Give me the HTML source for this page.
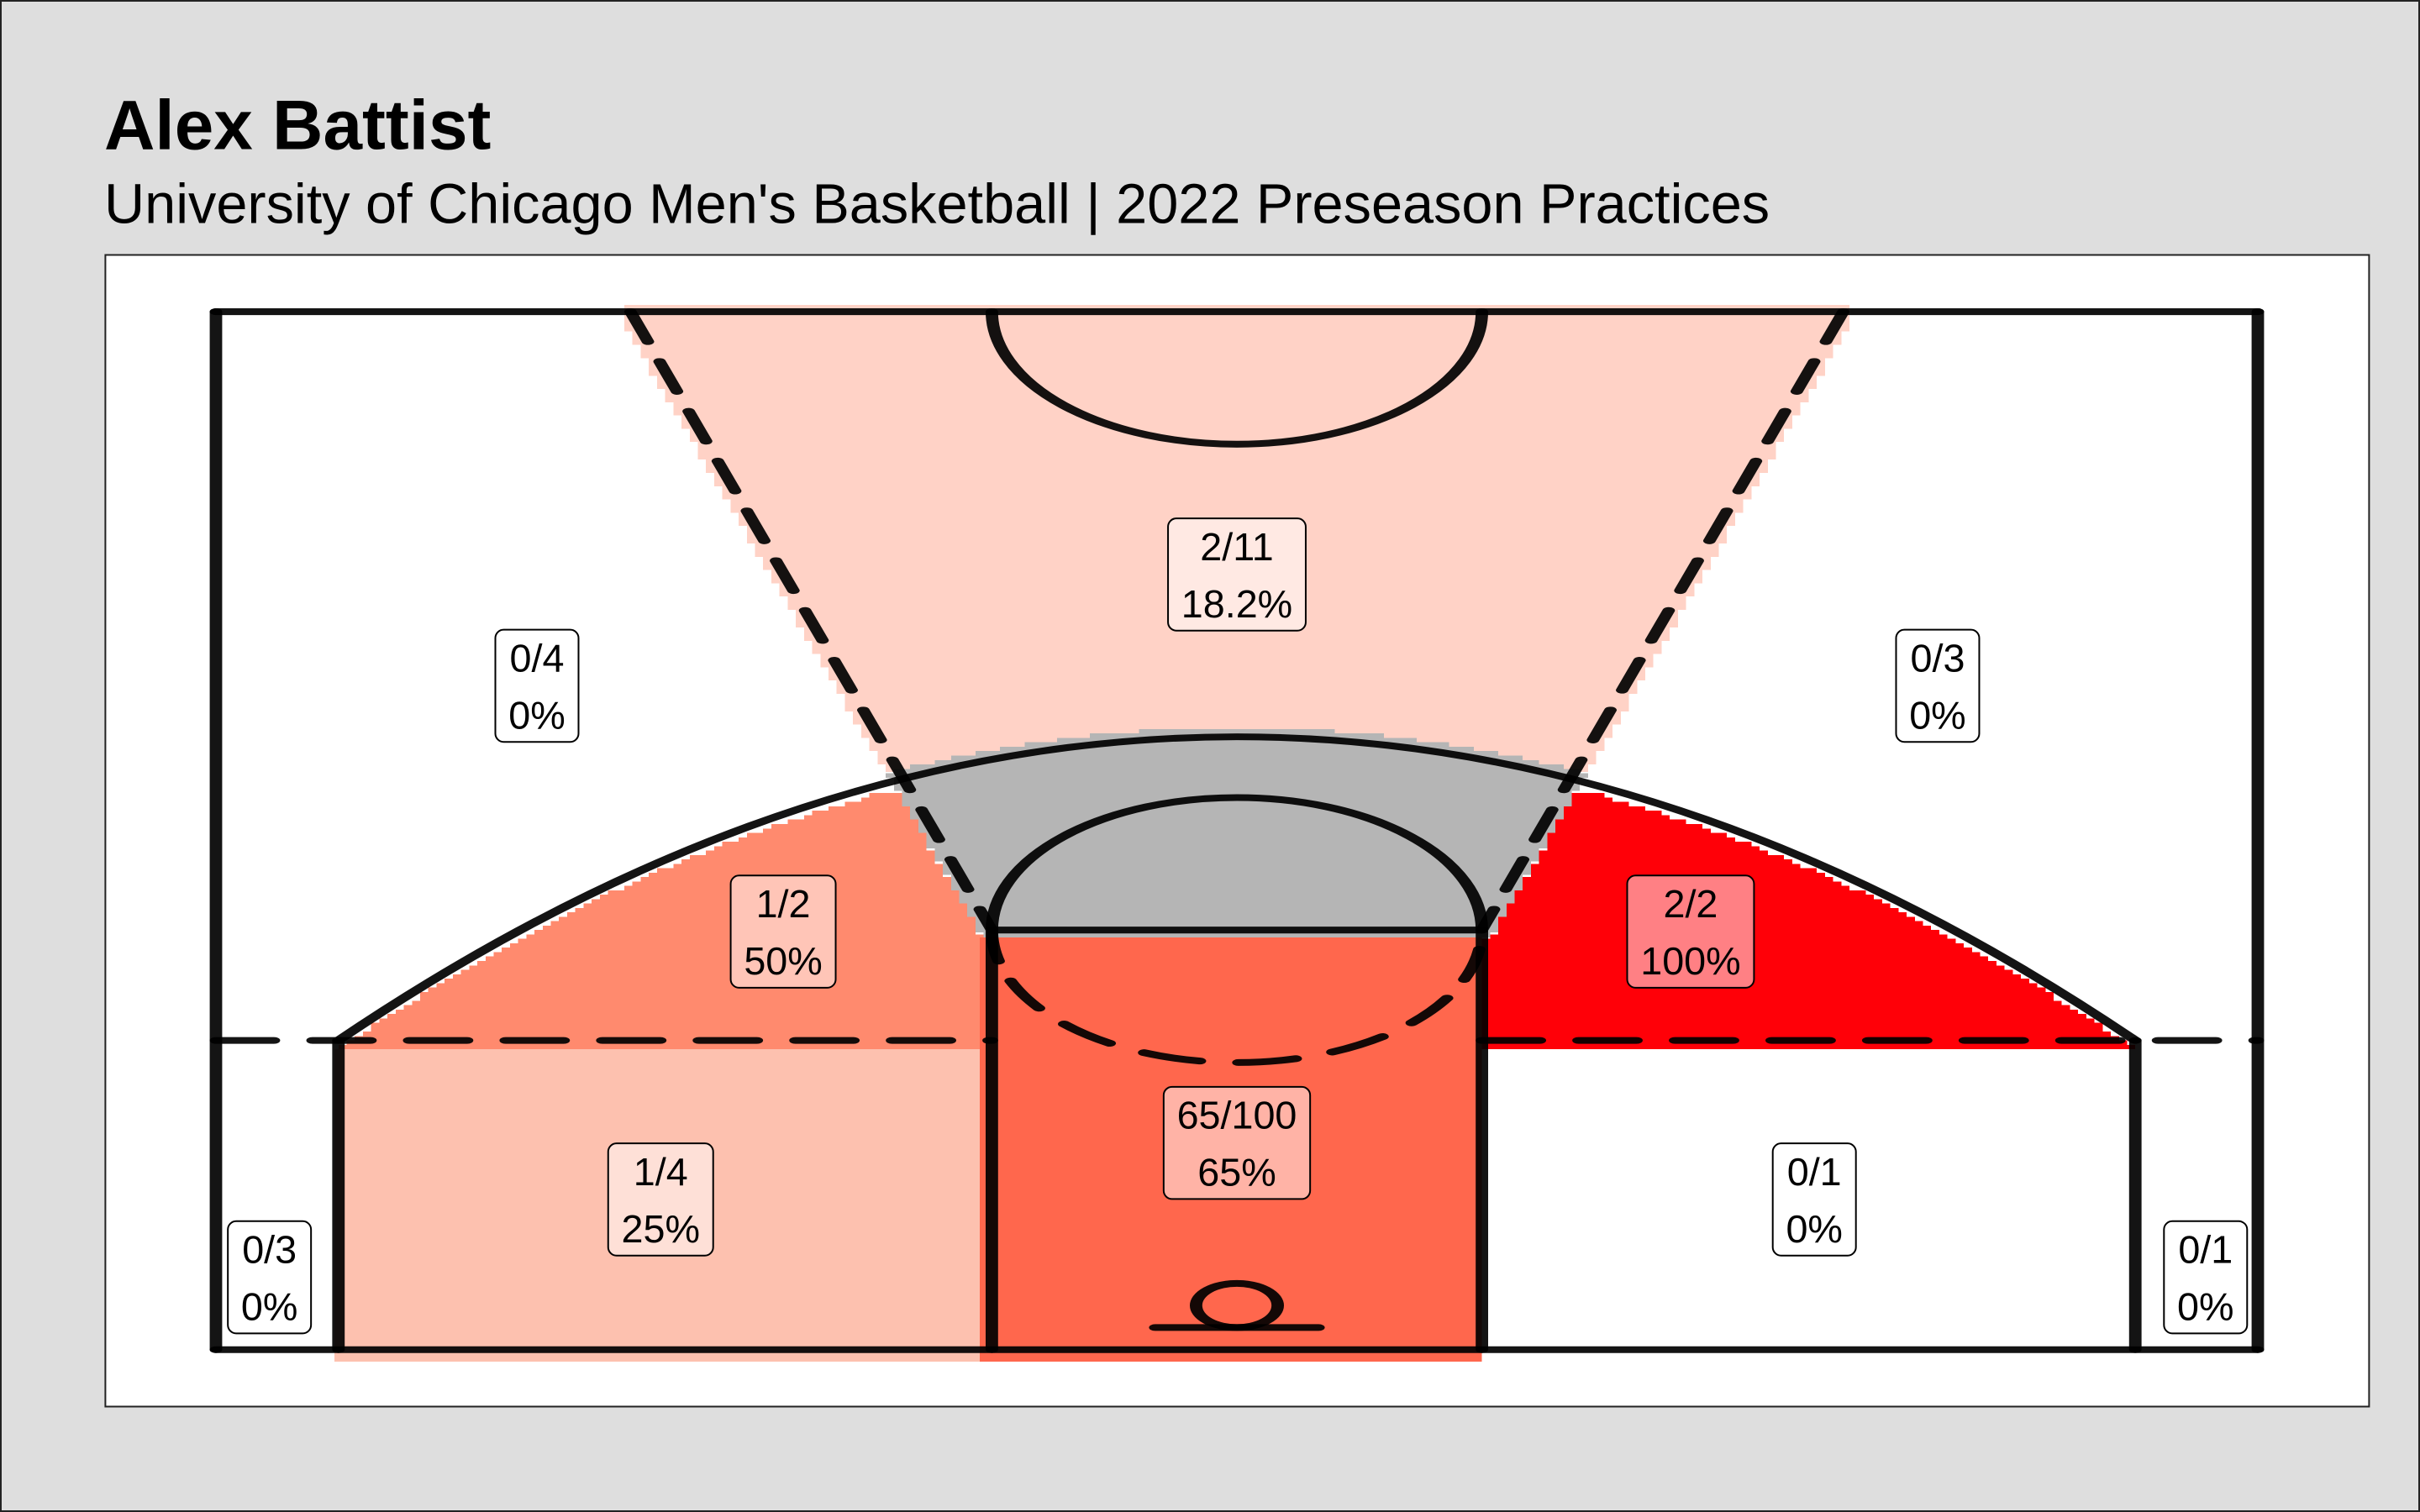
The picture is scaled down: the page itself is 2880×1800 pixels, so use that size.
<!DOCTYPE html>
<html lang="en">
<head>
<meta charset="utf-8">
<title>Alex Battist Shot Chart</title>
<style>
html,body{margin:0;padding:0;background:#dedede;width:2880px;height:1800px;overflow:hidden}
svg{display:block}
text{font-family:"Liberation Sans",Arial,sans-serif;fill:#000}
</style>
</head>
<body>
<svg id="chart" xmlns="http://www.w3.org/2000/svg" width="2880" height="1800" viewBox="0 0 2880 1800">
  <rect x="1" y="1" width="2878" height="1798" fill="#dedede" stroke="#222" stroke-width="2"/>
  <text x="124" y="177.5" font-size="83.7" font-weight="700">Alex Battist</text>
  <text x="124" y="265.5" font-size="66.65">University of Chicago Men's Basketball | 2022 Preseason Practices</text>
  <rect x="125.4" y="303.5" width="2694" height="1371" fill="#fff" stroke="#222" stroke-width="2"/>
  <g id="court" transform="translate(1472 1606.7) scale(48.6 -26.29)">
    <g id="zones" shape-rendering="crispEdges"></g>
    <g id="lines" fill="none" stroke="#000" stroke-opacity="0.92" stroke-width="0.305" stroke-linecap="round"></g>
  </g>
  <g id="labels"></g>
</svg>
<script>
// Chart data, one entry per court zone
const zoneNames = ['top-three', 'left-wing-three', 'right-wing-three', 'left-midrange', 'right-midrange', 'left-baseline', 'paint', 'right-baseline', 'left-corner-three', 'right-corner-three'];
const shotsMade = [2, 0, 0, 1, 2, 1, 65, 0, 0, 0];
const shotsAttempted = [11, 4, 3, 2, 2, 4, 100, 1, 3, 1];

// Label anchor in court feet for each zone name
const labelAnchorX = {'top-three':0,'left-wing-three':-17.14,'right-wing-three':17.16,'left-midrange':-11.11,'right-midrange':11.11,'left-baseline':-14.11,'paint':0,'right-baseline':14.14,'left-corner-three':-23.69,'right-corner-three':23.72};
const labelAnchorY = {'top-three':35.1,'left-wing-three':30.06,'right-wing-three':30.06,'left-midrange':18.93,'right-midrange':18.93,'left-baseline':6.8,'paint':9.36,'right-baseline':6.8,'left-corner-three':3.275,'right-corner-three':3.275};

const NS = 'http://www.w3.org/2000/svg';
const scaleX = x => 1472 + 48.6 * x;
const scaleY = y => 1606.7 - 26.29 * y;

// Colour scale: make rate to fill
const scaleStops = [[0,[255,255,255]],[0.182,[255,210,198]],[0.25,[253,193,175]],[0.5,[255,138,110]],[0.65,[255,103,77]],[1,[255,0,8]]];
function rateColor(rate){
  for(let i=1;i<scaleStops.length;i++){
    const a=scaleStops[i-1], b=scaleStops[i];
    if(rate<=b[0]){
      const t=(rate-a[0])/(b[0]-a[0]);
      return 'rgb('+a[1].map((c,k)=>Math.round(c+(b[1][k]-c)*t)).join(',')+')';
    }
  }
  return 'rgb(255,0,8)';
}
const rateOf = name => { const i=zoneNames.indexOf(name); return shotsMade[i]/shotsAttempted[i]; };

// Court geometry in feet
const arcHeight = x => 27.75 - 0.0284*x*x;
const arcInverse = y => Math.sqrt(Math.max(0,(27.75-y)/0.0284));
const wingEdge = y => Math.min(15, Math.max(6.3, 6 + 8.85*(y-19)/28 + 0.34));
const snap = x => Math.round(x/0.2)*0.2;
const f = v => v.toFixed(2);

function rowPath(yBottom, yTop, span){
  let d='';
  for(let y=yTop; y>yBottom+1e-6; y-=0.2){
    const lo=Math.max(y-0.2,yBottom), c=(y+lo)/2, s=span(c);
    if(!s) continue;
    const a=snap(s[0]), b=snap(s[1]);
    if(b<=a) continue;
    d+='M'+f(a)+' '+f(lo)+'H'+f(b)+'V'+f(y)+'H'+f(a)+'Z';
  }
  return d;
}
function addZone(name, fill, d){
  const p=document.createElementNS(NS,'path');
  
  
  p.setAttribute('fill', fill);
  p.setAttribute('d', d);
  document.getElementById('zones').appendChild(p);
}
const rectPath=(x0,x1,y0,y1)=>'M'+x0+' '+y0+'H'+x1+'V'+y1+'H'+x0+'Z';

addZone('zone-top-three', rateColor(rateOf('top-three')), rowPath(26.15,47.3,y=>[-wingEdge(y),wingEdge(y)]));
addZone('zone-no-shots', '#b5b5b5', rowPath(18.66,28.1,y=>{const w=Math.min(wingEdge(y),arcInverse(y-0.425));return [-w,w];}));
addZone('zone-left-midrange', rateColor(rateOf('left-midrange')), rowPath(13.6,25.4,y=>[-arcInverse(y+0.4),-wingEdge(y)]));
addZone('zone-right-midrange', rateColor(rateOf('right-midrange')), rowPath(13.6,25.4,y=>[y<18.66?6:wingEdge(y),arcInverse(y+0.4)]));
addZone('zone-left-baseline', rateColor(rateOf('left-baseline')), rectPath(-22.1,-6.3,-0.55,13.6));
addZone('zone-right-baseline', rateColor(rateOf('right-baseline')), rectPath(6,21.83,-0.55,13.6));
addZone('zone-paint', rateColor(rateOf('paint')), rectPath(-6.3,6,-0.55,18.66));

// Court line work
const linePaths = [
  ['left-sideline','M-25 0V47'],['right-sideline','M25 0V47'],['top-line','M-25 47H25'],['baseline','M-25 0H25'],
  ['left-lane-line','M-6 0V19'],['right-lane-line','M6 0V19'],['free-throw-line','M-6 19H6'],
  ['left-corner-three-line','M-22 0V14'],['right-corner-three-line','M22 0V14'],
  ['three-point-arc','M-22 14Q0 41.5 22 14'],
  ['free-throw-circle-top','M-6 19A6 6 0 0 0 6 19'],
  ['center-circle','M-6 47A6 6 0 0 1 6 47'],
  ['hoop','M-1 2A1 1 0 0 0 1 2A1 1 0 0 0 -1 2Z'],['backboard','M-2 1H2']
];
const dashedPaths = [
  ['left-zone-divider-line','M-25 14H-6'],['right-zone-divider-line','M6 14H25'],
  ['left-wing-divider','M-14.85 47L-6 19'],['right-wing-divider','M14.85 47L6 19'],
  ['free-throw-circle-bottom','M-6 19A6 6 0 0 1 6 19']
];
const linesGroup=document.getElementById('lines');
function addLine(item,dashed){
  const p=document.createElementNS(NS,'path');
  
  
  p.setAttribute('d', item[1]);
  if(dashed) p.setAttribute('stroke-dasharray','1.42 0.945');
  linesGroup.appendChild(p);
}
linePaths.forEach(l=>addLine(l,false));
dashedPaths.forEach(l=>addLine(l,true));

// Labels
const labelsGroup=document.getElementById('labels');
zoneNames.forEach((name,i)=>{
  const cx=scaleX(labelAnchorX[name]), cy=scaleY(labelAnchorY[name]);
  const rate=shotsMade[i]/shotsAttempted[i]*100;
  const pct=(Math.round(rate*10)/10)+'%';
  const g=document.createElementNS(NS,'g');
  
  
  const box=document.createElementNS(NS,'rect');
  
  
  const t1=document.createElementNS(NS,'text');
  
  
  const t2=document.createElementNS(NS,'text');
  
  
  t1.textContent=shotsMade[i]+'/'+shotsAttempted[i];
  t2.textContent=pct;
  [t1,t2].forEach(t=>{t.setAttribute('x',cx);t.setAttribute('text-anchor','middle');t.setAttribute('font-size','46.7');});
  t1.setAttribute('y',cy-17);
  t2.setAttribute('y',cy+51);
  g.appendChild(box);g.appendChild(t1);g.appendChild(t2);
  labelsGroup.appendChild(g);
  const w=Math.max(t1.getComputedTextLength(),t2.getComputedTextLength())+31.5;
  box.setAttribute('x',cx-w/2);
  box.setAttribute('y',cy-66.8);
  box.setAttribute('width',w);
  box.setAttribute('height',133.6);
  box.setAttribute('rx',10);
  box.setAttribute('fill','rgba(255,255,255,0.5)');
  box.setAttribute('stroke','#000');
  box.setAttribute('stroke-width','2');
});
</script>
</body>
</html>
